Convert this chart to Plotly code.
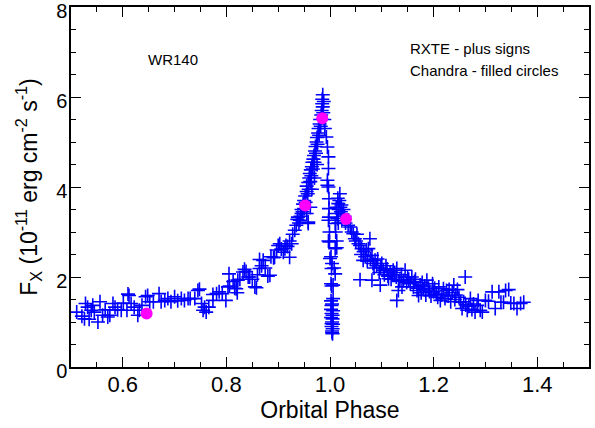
import plotly.graph_objects as go

# ---------------- data (orbital phase, flux in 1e-11 erg cm^-2 s^-1) ----------------
rxte_baseline = [
    (0.511, 1.22), (0.521, 1.13), (0.528, 1.41), (0.532, 1.33), (0.526, 1.07), (0.539, 1.26),
    (0.542, 1.37), (0.545, 1.22), (0.552, 1.00), (0.556, 1.45), (0.561, 1.15), (0.566, 1.27),
    (0.571, 1.11), (0.575, 1.15), (0.581, 1.41), (0.585, 1.33), (0.590, 1.27), (0.597, 1.26),
    (0.601, 1.42), (0.608, 1.26), (0.612, 1.59), (0.616, 1.41), (0.622, 1.33), (0.629, 1.15),
    (0.632, 1.26), (0.637, 1.37), (0.644, 1.56), (0.648, 1.59), (0.652, 1.45), (0.659, 1.45),
    (0.670, 1.63), (0.674, 1.45), (0.681, 1.48), (0.687, 1.52), (0.693, 1.45), (0.700, 1.56),
    (0.706, 1.47), (0.713, 1.52), (0.719, 1.48), (0.726, 1.52), (0.730, 1.52), (0.739, 1.52),
    (0.745, 1.70), (0.752, 1.41), (0.755, 1.26), (0.758, 1.33), (0.761, 1.22), (0.766, 1.33),
    (0.774, 1.48), (0.781, 1.63), (0.786, 1.67), (0.792, 1.63), (0.799, 1.48), (0.610, 1.62),
    (0.535, 1.06), (0.748, 1.73), (0.774, 1.61),
]

rxte_rise = [
    (0.803, 1.78), (0.805, 2.07), (0.806, 1.80), (0.813, 1.90), (0.816, 1.75), (0.819, 1.74),
    (0.821, 1.65), (0.822, 1.93), (0.826, 1.95), (0.832, 2.11), (0.835, 2.17), (0.838, 2.12),
    (0.842, 2.00), (0.845, 2.00), (0.850, 1.95), (0.855, 1.78), (0.858, 1.76), (0.860, 2.05),
    (0.864, 2.19), (0.864, 2.39), (0.868, 2.25), (0.871, 2.37), (0.875, 2.20), (0.880, 2.02),
    (0.884, 2.04), (0.886, 2.45), (0.891, 2.43), (0.893, 2.44), (0.897, 2.60), (0.900, 2.70),
    (0.903, 2.74), (0.906, 2.62), (0.910, 2.55), (0.913, 2.63), (0.915, 2.70), (0.918, 2.68),
    (0.922, 2.44), (0.922, 2.80), (0.926, 2.74), (0.928, 2.95), (0.932, 3.04), (0.935, 3.15),
    (0.937, 3.28), (0.940, 3.20), (0.942, 3.26), (0.945, 3.41),
]

rxte_peak = [
    (0.943, 3.35), (0.945, 3.50), (0.947, 3.45), (0.948, 3.62), (0.950, 3.70), (0.950, 3.52),
    (0.952, 3.80), (0.953, 3.66), (0.955, 3.90), (0.955, 4.02), (0.957, 3.85), (0.958, 4.10),
    (0.959, 3.95), (0.960, 4.20), (0.961, 4.30), (0.962, 4.12), (0.963, 4.38), (0.964, 4.25),
    (0.965, 4.45), (0.966, 4.55), (0.967, 4.40), (0.968, 4.62), (0.969, 4.70), (0.970, 4.55),
    (0.971, 4.80), (0.972, 4.90), (0.973, 4.75), (0.974, 5.00), (0.975, 5.10), (0.976, 4.95),
    (0.977, 5.20), (0.978, 5.30), (0.979, 5.15), (0.980, 5.40), (0.981, 5.50), (0.982, 5.35),
    (0.983, 5.60), (0.984, 5.70), (0.985, 5.85), (0.985, 5.95), (0.986, 6.05), (0.986, 5.78),
    (0.987, 5.65), (0.988, 5.90), (0.989, 5.50), (0.990, 5.30), (0.975, 4.50), (0.970, 4.20),
    (0.965, 3.95), (0.958, 3.22), (0.955, 3.41), (0.958, 3.19), (0.962, 3.55), (0.938, 3.33),
]

rxte_dip = [
    (0.993, 5.11), (0.995, 4.89), (0.997, 4.67), (0.997, 4.41), (0.995, 4.15), (0.997, 4.00),
    (0.998, 3.74), (0.998, 3.52), (0.998, 3.33), (0.995, 4.04), (0.997, 3.26), (0.999, 3.00),
    (0.999, 2.78), (0.997, 2.80), (1.000, 2.41), (1.002, 2.45), (1.003, 2.19), (1.004, 2.30),
    (1.006, 1.82), (1.002, 1.85), (1.003, 1.80), (1.006, 1.52), (1.002, 1.47), (1.003, 1.37),
    (1.002, 1.28), (1.003, 1.19), (1.005, 1.07), (1.003, 0.96), (1.005, 0.85), (1.005, 0.74),
    (1.004, 1.00), (1.002, 1.10), (1.006, 1.25), (1.004, 1.40), (1.003, 0.90), (1.004, 0.80),
    (1.006, 0.95), (1.005, 1.15), (1.010, 2.63), (1.010, 2.07), (1.008, 2.20), (1.013, 2.80),
    (1.013, 2.65), (1.004, 0.76),
]

rxte_hump = [
    (1.019, 3.85), (1.016, 3.63), (1.013, 3.41), (1.010, 3.19), (1.011, 3.00), (1.015, 3.75),
    (1.018, 3.70), (1.020, 3.55), (1.022, 3.60), (1.017, 3.50), (1.014, 3.30), (1.021, 3.45),
    (1.024, 3.40), (1.026, 3.50), (1.012, 3.55), (1.016, 3.20), (1.023, 3.25), (1.028, 3.35),
    (1.030, 3.20), (1.035, 3.15),
]

rxte_decline = [
    (1.039, 3.11), (1.045, 2.96), (1.048, 2.85), (1.055, 2.74), (1.061, 2.63), (1.065, 2.56),
    (1.074, 2.63), (1.077, 2.85), (1.081, 2.48), (1.064, 2.37), (1.087, 2.37), (1.092, 2.40),
    (1.100, 2.30), (1.103, 2.15), (1.108, 2.25), (1.116, 2.11), (1.113, 1.96), (1.120, 2.05),
    (1.125, 2.10), (1.129, 2.19), (1.135, 1.93), (1.139, 1.78), (1.145, 2.15), (1.150, 2.00),
    (1.155, 1.85), (1.161, 1.78), (1.168, 1.70), (1.171, 1.59), (1.058, 1.94), (1.081, 1.93),
    (1.097, 1.82), (1.132, 1.70), (1.129, 1.48), (1.042, 3.00), (1.050, 2.80), (1.052, 2.95),
    (1.058, 2.70), (1.060, 2.50), (1.068, 2.45), (1.070, 2.60), (1.072, 2.35), (1.078, 2.40),
    (1.083, 2.30), (1.085, 2.20), (1.090, 2.25), (1.095, 2.10), (1.098, 2.20), (1.105, 2.05),
    (1.110, 2.18), (1.112, 2.02), (1.118, 1.95), (1.122, 2.15), (1.128, 2.00), (1.133, 1.90),
    (1.138, 2.05), (1.142, 1.92), (1.148, 1.88), (1.152, 1.95), (1.158, 2.00), (1.163, 1.90),
]

rxte_tail = [
    (1.165, 1.95), (1.174, 1.82), (1.187, 1.93), (1.180, 1.72), (1.190, 1.75), (1.200, 1.67),
    (1.205, 1.62), (1.213, 1.48), (1.219, 1.74), (1.225, 1.70), (1.230, 1.72), (1.239, 1.82),
    (1.243, 1.60), (1.252, 1.44), (1.255, 1.30), (1.261, 2.00), (1.265, 1.26), (1.271, 1.52),
    (1.277, 1.40), (1.284, 1.37), (1.290, 1.26), (1.294, 1.22), (1.300, 1.48), (1.306, 1.46),
    (1.313, 1.67), (1.319, 1.30), (1.326, 1.67), (1.330, 1.44), (1.335, 1.44), (1.339, 1.70),
    (1.345, 1.72), (1.349, 1.42), (1.355, 1.41), (1.361, 1.30), (1.368, 1.41), (1.374, 1.44),
    (1.176, 1.65), (1.183, 1.80), (1.195, 1.58), (1.198, 1.85), (1.208, 1.55), (1.210, 1.78),
    (1.216, 1.60), (1.222, 1.52), (1.228, 1.58), (1.233, 1.45), (1.236, 1.65), (1.241, 1.50),
    (1.246, 1.72), (1.249, 1.55), (1.258, 1.45), (1.262, 1.38), (1.268, 1.35), (1.274, 1.28),
    (1.280, 1.22), (1.286, 1.48), (1.185, 1.60), (1.192, 1.68), (1.202, 1.75), (1.170, 1.75),
    (1.178, 1.88),
]

chandra_phase = [0.646, 0.952, 0.985, 1.031]
chandra_flux = [1.19, 3.59, 5.53, 3.29]

x_ticks = [0.6, 0.8, 1.0, 1.2, 1.4]
y_ticks = [0, 2, 4, 6, 8]

rxte_points = rxte_baseline + rxte_rise + rxte_peak + rxte_dip + rxte_hump + rxte_decline + rxte_tail
rxte_phase = [p[0] for p in rxte_points]
rxte_flux = [p[1] for p in rxte_points]

FONT = "Liberation Sans, Arial, sans-serif"

fig = go.Figure()
fig.add_trace(go.Scatter(
    x=rxte_phase, y=rxte_flux, mode="markers", name="RXTE",
    marker=dict(symbol="cross-thin", size=10, color="#0000ff",
                line=dict(color="#0000ff", width=1.6)),
))
fig.add_trace(go.Scatter(
    x=chandra_phase, y=chandra_flux, mode="markers", name="Chandra",
    marker=dict(symbol="circle", size=12, color="#ff00ff", line=dict(width=0)),
))

axis_common = dict(
    showline=True, linecolor="black", linewidth=1.5, mirror="ticks",
    ticks="inside", ticklen=10, tickwidth=1.3, tickcolor="black",
    showgrid=False, zeroline=False, ticklabeloverflow="allow",
)

fig.update_xaxes(
    range=[0.5, 1.5], tickvals=x_ticks, ticktext=[f"{v:.1f}" for v in x_ticks],
    minor=dict(dtick=0.05, tick0=0.5, ticks="inside", ticklen=5, tickwidth=1.2, tickcolor="black"),
    ticklabelstandoff=-3,
    tickfont=dict(family=FONT, size=22, color="black"),
    title=dict(text="Orbital Phase", font=dict(family=FONT, size=23, color="black"), standoff=2),
    **axis_common,
)
fig.update_yaxes(
    range=[0, 8], tickvals=y_ticks, ticktext=[str(v) for v in y_ticks],
    minor=dict(dtick=0.5, tick0=0, ticks="inside", ticklen=5, tickwidth=1.2, tickcolor="black"),
    ticklabelstandoff=-2, ticklabelshift=4,
    tickfont=dict(family=FONT, size=20, color="black"),
    title=dict(text="F<sub>X</sub> (10<sup>-11</sup> erg cm<sup>-2</sup> s<sup>-1</sup>)",
               font=dict(family=FONT, size=23, color="black"), standoff=12),
    **axis_common,
)

ann_font = dict(family=FONT, size=15, color="black")
PL, PR, PT, PB = 71, 589, 7, 367
fig.add_annotation(text="WR140", x=(173 - PL) / (PR - PL), y=(PB - 59) / (PB - PT),
                   xref="paper", yref="paper", xanchor="center", yanchor="middle",
                   showarrow=False, font=ann_font)
fig.add_annotation(text="RXTE - plus signs", x=(408 - PL) / (PR - PL), y=(PB - 48) / (PB - PT),
                   xref="paper", yref="paper", xanchor="left", yanchor="middle",
                   showarrow=False, font=ann_font)
fig.add_annotation(text="Chandra - filled circles", x=(408 - PL) / (PR - PL), y=(PB - 70) / (PB - PT),
                   xref="paper", yref="paper", xanchor="left", yanchor="middle",
                   showarrow=False, font=ann_font)

fig.update_layout(
    width=595, height=428,
    margin=dict(l=PL, r=595 - PR, t=PT, b=428 - PB, autoexpand=False),
    plot_bgcolor="white", paper_bgcolor="white",
    showlegend=False,
    font=dict(family=FONT, color="black"),
)

fig.write_html("out.html", config={"displayModeBar": False},
               post_script="document.body.style.margin='0';")
